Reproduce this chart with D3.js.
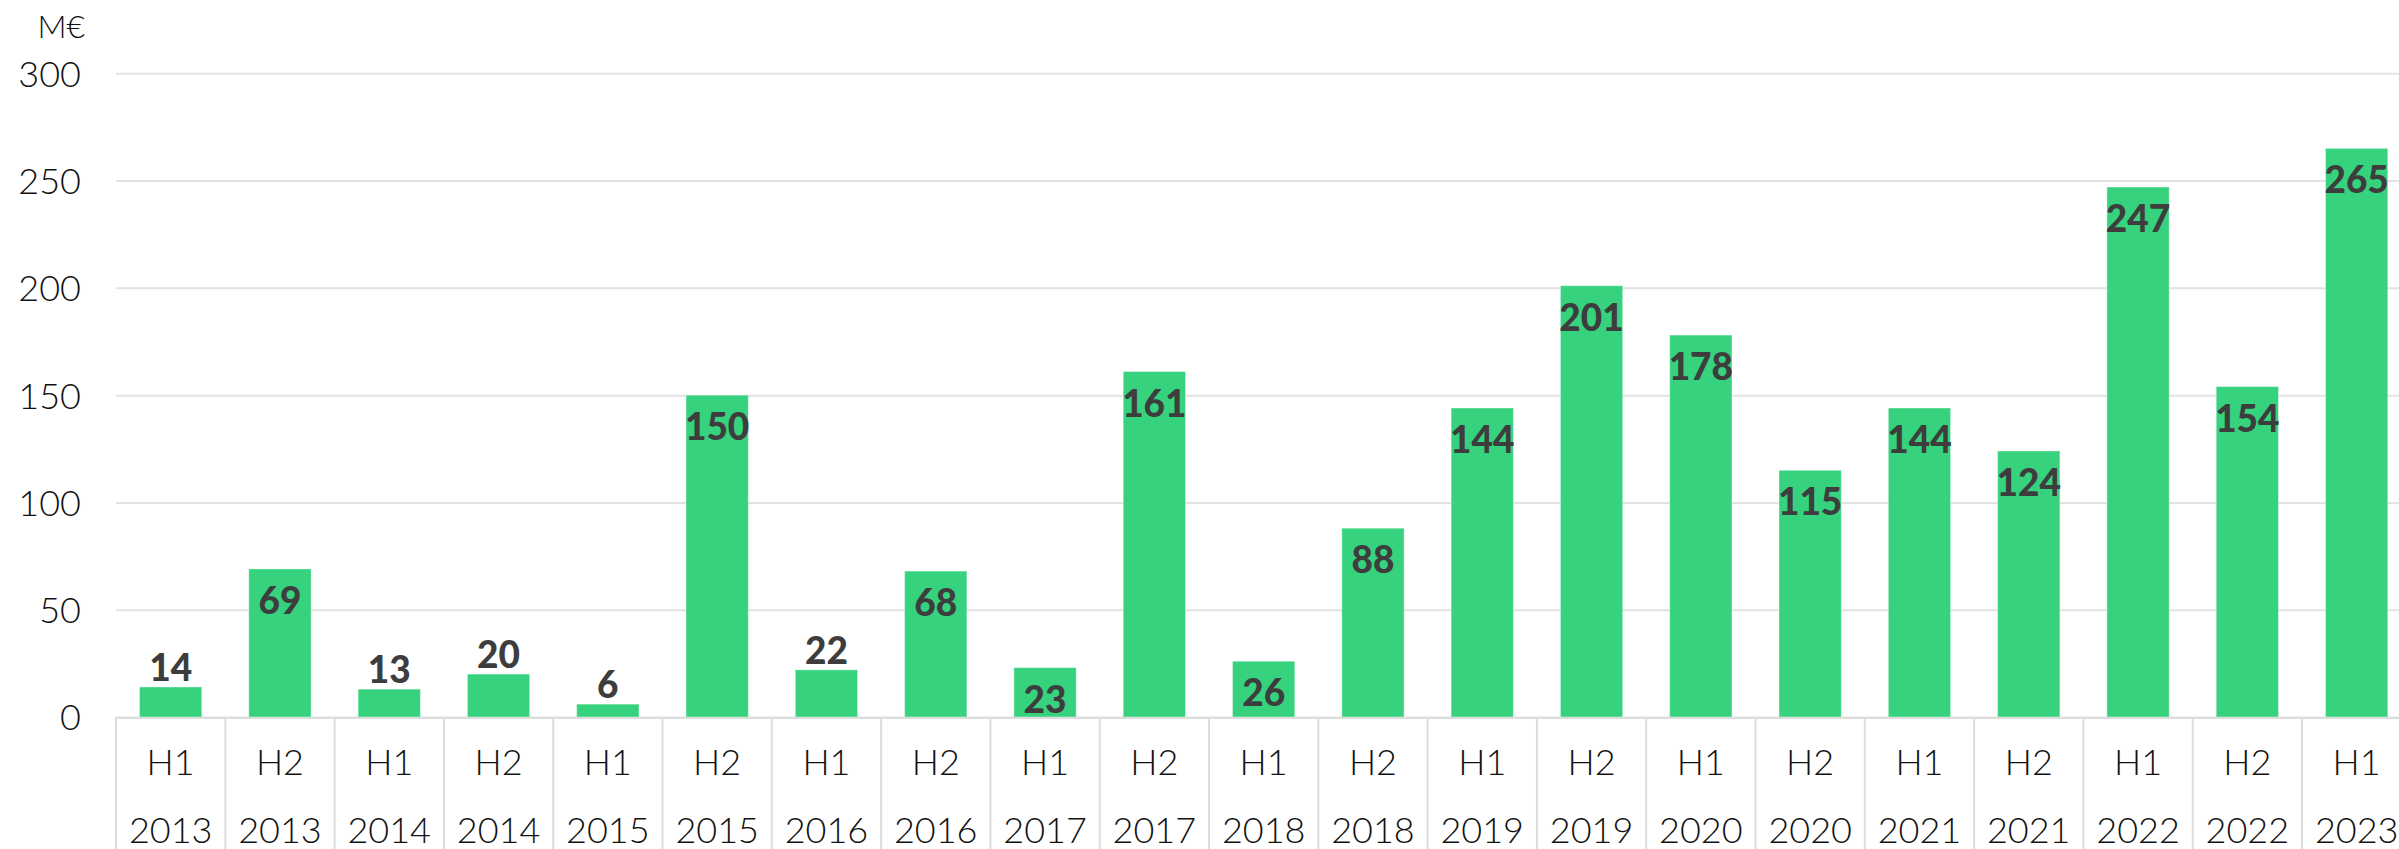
<!DOCTYPE html>
<html>
<head>
<meta charset="utf-8">
<script src="https://cdn.jsdelivr.net/npm/d3@7/dist/d3.min.js"></script>
<style>
  html, body { margin: 0; padding: 0; background: #fff; }
  svg { display: block; font-family: Lato, "Open Sans", sans-serif; }
</style>
</head>
<body>
<div id="chart"></div>
<script>
var halves = ["H1","H2","H1","H2","H1","H2","H1","H2","H1","H2","H1","H2","H1","H2","H1","H2","H1","H2","H1","H2","H1"];
var years = ["2013","2013","2014","2014","2015","2015","2016","2016","2017","2017","2018","2018","2019","2019","2020","2020","2021","2021","2022","2022","2023"];
var values = [14, 69, 13, 20, 6, 150, 22, 68, 23, 161, 26, 88, 144, 201, 178, 115, 144, 124, 247, 154, 265];
var yTicks = [0, 50, 100, 150, 200, 250, 300];
var unitLabel = "M€";

var W = 2399, H = 849,
    plotLeft = 116, plotBase = 717, plotTop = 73.3,
    step = 109.3,
    insideMin = 23;

var svg = d3.select("#chart").append("svg").attr("width", W).attr("height", H);

var idx = values.map(function(d, i) { return i; });

var x = d3.scaleBand()
    .domain(idx)
    .range([plotLeft, plotLeft + step * values.length])
    .paddingInner(0.43)
    .paddingOuter(0.215);

var y = d3.scaleLinear()
    .domain([0, 300])
    .range([plotBase, plotTop]);

// y axis + gridlines
var yAxis = svg.append("g")
    .attr("transform", "translate(" + plotLeft + ",0)")
    .call(d3.axisLeft(y).tickValues(yTicks).tickSize(-(W - plotLeft)).tickPadding(35));
yAxis.select(".domain").remove();
yAxis.selectAll(".tick line").attr("stroke", "#e2e2e2").attr("stroke-width", 2);
yAxis.selectAll(".tick text")
    .attr("fill", "#111")
    .attr("font-family", "Lato")
    .attr("font-weight", 300)
    .attr("font-size", 36)
    .attr("dy", "0.36em");

svg.append("text")
    .attr("x", 85).attr("y", 38)
    .attr("text-anchor", "end")
    .attr("font-weight", 300)
    .attr("font-size", 32)
    .attr("fill", "#111")
    .text(unitLabel);

// bars
svg.append("g").selectAll("rect")
    .data(values)
    .enter().append("rect")
      .attr("x", function(d, i) { return x(i); })
      .attr("y", function(d) { return y(d); })
      .attr("width", x.bandwidth())
      .attr("height", function(d) { return plotBase - y(d); })
      .attr("fill", "#36d27e")
      .attr("stroke", "#ffffff")
      .attr("stroke-opacity", 0.4)
      .attr("stroke-width", 1);

// value labels
svg.append("g").selectAll("text")
    .data(values)
    .enter().append("text")
      .attr("x", function(d, i) { return x(i) + x.bandwidth() / 2; })
      .attr("y", function(d) { return d >= insideMin ? y(d) + 45 : y(d) - 6; })
      .attr("text-anchor", "middle")
      .attr("font-weight", 900)
      .attr("font-size", 37)
      .attr("fill", "#3d3d3d")
      .text(function(d) { return d; });

// category grid below axis
var cat = svg.append("g");
cat.append("line")
    .attr("x1", plotLeft).attr("x2", W)
    .attr("y1", plotBase + 1).attr("y2", plotBase + 1)
    .attr("stroke", "#dddddd").attr("stroke-width", 2);

cat.selectAll("line.div")
    .data(idx)
    .enter().append("line")
      .attr("class", "div")
      .attr("x1", function(i) { return x(i) - x.step() * x.paddingOuter(); })
      .attr("x2", function(i) { return x(i) - x.step() * x.paddingOuter(); })
      .attr("y1", plotBase).attr("y2", H)
      .attr("stroke", "#dddddd").attr("stroke-width", 2);

cat.selectAll("text.half")
    .data(halves)
    .enter().append("text")
      .attr("class", "half")
      .attr("x", function(d, i) { return x(i) + x.bandwidth() / 2; })
      .attr("y", 775)
      .attr("text-anchor", "middle")
      .attr("font-weight", 300)
      .attr("font-size", 36)
      .attr("fill", "#111")
      .text(function(d) { return d; });

cat.selectAll("text.year")
    .data(years)
    .enter().append("text")
      .attr("class", "year")
      .attr("x", function(d, i) { return x(i) + x.bandwidth() / 2; })
      .attr("y", 843)
      .attr("text-anchor", "middle")
      .attr("font-weight", 300)
      .attr("font-size", 36)
      .attr("fill", "#111")
      .text(function(d) { return d; });
</script>
</body>
</html>
